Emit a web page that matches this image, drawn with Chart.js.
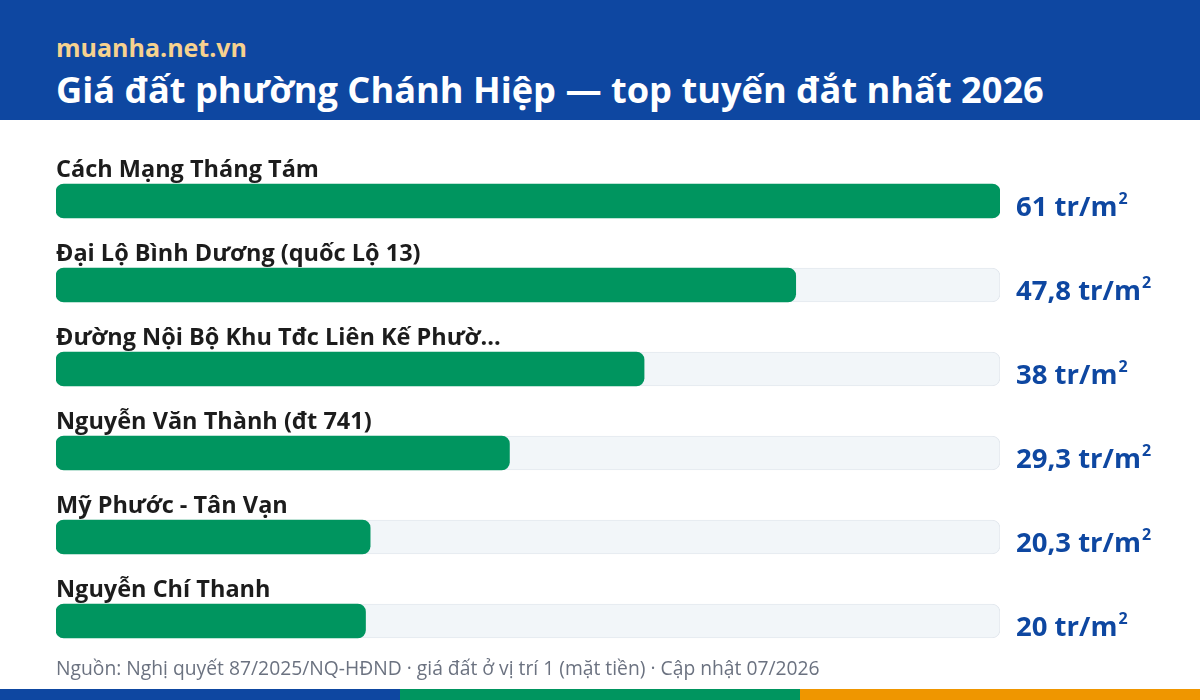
<!DOCTYPE html>
<html lang="vi">
<head>
<meta charset="utf-8">
<script src="https://cdn.jsdelivr.net/npm/chart.js@4.4.1/dist/chart.umd.min.js"></script>
<style>
  html, body { margin:0; padding:0; width:1200px; height:700px; overflow:hidden; background:#ffffff; font-family:"Open Sans", "Noto Sans", sans-serif; }
  #header { position:absolute; left:0; top:0; width:1200px; height:120px; background:#0e47a1; }
  #site { position:absolute; left:56px; top:31px; font-size:25px; font-weight:700; color:#f6d28f; line-height:32px; }
  #title { position:absolute; left:56px; top:65px; font-size:36.2px; font-weight:700; color:#ffffff; line-height:48px; white-space:nowrap; }
  #chartBox { position:absolute; left:0; top:120px; width:1200px; height:570px; }
  #source { position:absolute; left:56px; top:656px; font-size:19.3px; color:#6b7280; line-height:24px; white-space:nowrap; }
  .stripe { position:absolute; top:689px; height:11px; width:400px; }
</style>
</head>
<body>
<div id="header">
  <div id="site">muanha.net.vn</div>
  <div id="title">Giá đất phường Chánh Hiệp — top tuyến đắt nhất 2026</div>
</div>
<div id="chartBox"><canvas id="c"></canvas></div>
<div id="source">Nguồn: Nghị quyết 87/2025/NQ-HĐND · giá đất ở vị trí 1 (mặt tiền) · Cập nhật 07/2026</div>
<div class="stripe" style="left:0;background:#0e47a1"></div>
<div class="stripe" style="left:400px;background:#00955f"></div>
<div class="stripe" style="left:800px;background:#ef9600"></div>
<script>
const streets = [
  "Cách Mạng Tháng Tám",
  "Đại Lộ Bình Dương (quốc Lộ 13)",
  "Đường Nội Bộ Khu Tđc Liên Kế Phườ...",
  "Nguyễn Văn Thành (đt 741)",
  "Mỹ Phước - Tân Vạn",
  "Nguyễn Chí Thanh"
];
const prices = [61, 47.8, 38, 29.3, 20.3, 20];
const unitText = "tr/m";
const unitSup = "2";
const maxPrice = Math.max(...prices);
const trackValues = prices.map(() => maxPrice);

const fmt = v => String(v).replace('.', ',');

const labelPlugin = {
  id: 'rowLabels',
  afterDatasetsDraw(chart) {
    const ctx = chart.ctx;
    const meta = chart.getDatasetMeta(0);
    ctx.save();
    meta.data.forEach((bar, i) => {
      const cy = bar.y;
      ctx.font = '700 23.5px "Open Sans"';
      ctx.fillStyle = '#1c1c1c';
      ctx.textBaseline = 'alphabetic';
      ctx.textAlign = 'left';
      ctx.fillText(streets[i], chart.chartArea.left, cy - 24);
      const x0 = chart.chartArea.right + 16;
      const main = fmt(prices[i]) + ' ' + unitText;
      ctx.font = '700 27.5px "Open Sans"';
      ctx.fillStyle = '#0e47a1';
      ctx.fillText(main, x0, cy + 15);
      const w = ctx.measureText(main).width;
      ctx.font = '700 16px "Open Sans"';
      ctx.fillText(unitSup, x0 + w + 1, cy + 3);
    });
    ctx.restore();
  }
};

new Chart(document.getElementById('c'), {
  type: 'bar',
  data: {
    labels: streets,
    datasets: [
      {
        data: prices,
        backgroundColor: '#00955f',
        borderRadius: 8,
        borderSkipped: false,
        barThickness: 34,
        grouped: false,
        order: 0
      },
      {
        data: trackValues,
        backgroundColor: '#f2f6f9',
        borderColor: '#e3e8ee',
        borderWidth: 1,
        borderRadius: 8,
        borderSkipped: false,
        barThickness: 34,
        grouped: false,
        order: 1
      }
    ]
  },
  options: {
    indexAxis: 'y',
    responsive: true,
    maintainAspectRatio: false,
    animation: false,
    layout: { padding: { left: 56, right: 200, top: 39, bottom: 27 } },
    plugins: { legend: { display: false }, tooltip: { enabled: false } },
    scales: {
      x: { display: false, min: 0, max: maxPrice },
      y: { display: false }
    }
  },
  plugins: [labelPlugin]
});
</script>
</body>
</html>
